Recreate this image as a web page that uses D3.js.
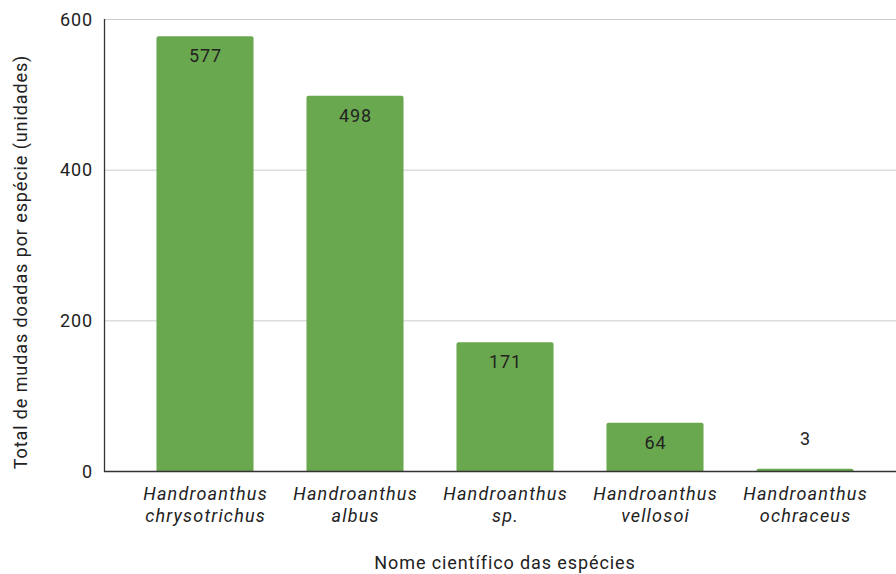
<!DOCTYPE html>
<html><head><meta charset="utf-8">
<script src="https://cdn.jsdelivr.net/npm/d3@7"></script>
<style>body{margin:0;background:#fff}svg{display:block;font-family:Roboto,Arial,sans-serif}</style>
</head><body>
<svg id="c" width="896" height="574"></svg>
<script>
const categories = [["Handroanthus","chrysotrichus"],["Handroanthus","albus"],["Handroanthus","sp."],["Handroanthus","vellosoi"],["Handroanthus","ochraceus"]];
const values = [577, 498, 171, 64, 3];
const yTicks = [0, 200, 400, 600];
const xTitle = "Nome científico das espécies";
const yTitle = "Total de mudas doadas por espécie (unidades)";

(function(){
const svg = d3.select("#c");
const pL = 104, pR = 896, pT = 19, pB = 471;
const FS = 18, LS = 0.9;
const x = d3.scaleBand().domain(d3.range(values.length)).range([130, 880]).paddingInner(0.353).paddingOuter(0.1765);
const y = d3.scaleLinear().domain([0, 600]).range([pB, pT]);

svg.append("g").selectAll("line").data(yTicks.filter(d=>d>0)).join("line")
  .attr("x1", pL).attr("x2", pR).attr("y1", d=>y(d)+0.5).attr("y2", d=>y(d)+0.5)
  .attr("stroke", "#cccccc").attr("stroke-width", 1);

svg.append("g").selectAll("text").data(yTicks).join("text")
  .attr("x", 93).attr("y", d=>y(d)+6.5).attr("text-anchor", "end")
  .attr("font-size", FS).attr("letter-spacing", LS).attr("fill", "#222").text(d=>d);

svg.append("g").selectAll("path").data(values).join("path")
  .attr("d", (d,i)=>{
    const x0 = x(i), w = x.bandwidth(), y0 = y(d), h = pB - y0;
    const r = Math.min(2, h);
    return `M${x0},${pB}V${y0+r}Q${x0},${y0} ${x0+r},${y0}H${x0+w-r}Q${x0+w},${y0} ${x0+w},${y0+r}V${pB}Z`;
  })
  .attr("fill", "#6aa84f");

svg.append("g").selectAll("text").data(values).join("text")
  .attr("x", (d,i)=>x(i)+x.bandwidth()/2+LS/2)
  .attr("y", d=> (pB - y(d)) > 30 ? y(d)+26 : y(d)-24)
  .attr("text-anchor", "middle").attr("font-size", FS).attr("letter-spacing", LS).attr("fill", "#222").text(d=>d);

svg.append("line").attr("x1", pL+0.5).attr("x2", pL+0.5).attr("y1", pT).attr("y2", pB+1)
  .attr("stroke", "#333").attr("stroke-width", 1.3);
svg.append("line").attr("x1", pL).attr("x2", pR).attr("y1", pB+0.5).attr("y2", pB+0.5)
  .attr("stroke", "#333").attr("stroke-width", 1.3);

const cl = svg.append("g").selectAll("text").data(categories).join("text")
  .attr("x", (d,i)=>x(i)+x.bandwidth()/2+0.6).attr("y", 500)
  .attr("text-anchor", "middle").attr("font-size", FS).attr("letter-spacing", 1.2).attr("font-style", "italic").attr("fill", "#222");
cl.selectAll("tspan").data(d=>d).join("tspan")
  .attr("x", function(){return this.parentNode.getAttribute("x");})
  .attr("dy", (d,j)=> j===0 ? 0 : 22).text(d=>d);

svg.append("text").attr("x", 505).attr("y", 569).attr("text-anchor", "middle")
  .attr("font-size", FS).attr("letter-spacing", LS).attr("fill", "#222").text(xTitle);
svg.append("text").attr("transform", "translate(27,262) rotate(-90)").attr("text-anchor", "middle")
  .attr("font-size", FS).attr("letter-spacing", LS).attr("fill", "#222").text(yTitle);
})();
</script>
</body></html>
